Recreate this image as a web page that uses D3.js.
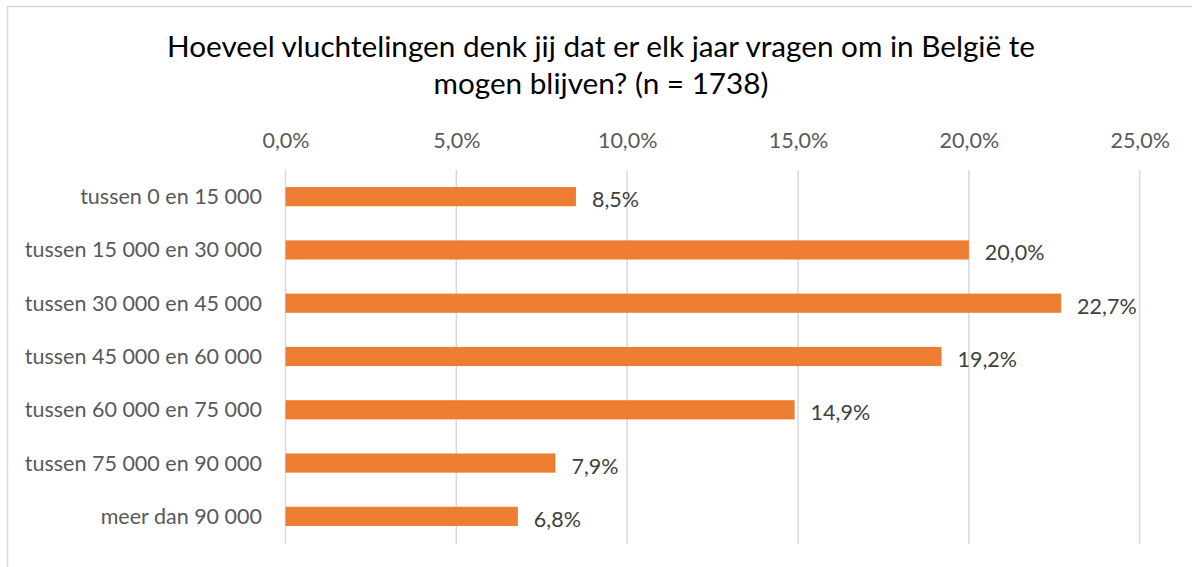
<!DOCTYPE html>
<html><head><meta charset="utf-8">
<script src="https://cdn.jsdelivr.net/npm/d3@7"></script>
<style>body{margin:0;background:#fff}svg{display:block}</style>
</head><body>
<svg id="c" width="1192" height="567"></svg>
<script>
const categories = ["tussen 0 en 15 000","tussen 15 000 en 30 000","tussen 30 000 en 45 000","tussen 45 000 en 60 000","tussen 60 000 en 75 000","tussen 75 000 en 90 000","meer dan 90 000"];
const values = [8.5, 20.0, 22.7, 19.2, 14.9, 7.9, 6.8];
const ticks = [0, 5, 10, 15, 20, 25];
const titleLines = ["Hoeveel vluchtelingen denk jij dat er elk jaar vragen om in België te", "mogen blijven? (n = 1738)"];

const svg = d3.select("#c");
const font = "Lato, sans-serif";
const fmt = v => v.toFixed(1).replace(".", ",") + "%";
const fs = 21.5;

svg.append("rect").attr("x", 7.5).attr("y", 6.5).attr("width", 1200).attr("height", 600)
  .attr("fill", "#fff").attr("stroke", "#d9d9d9").attr("stroke-width", 1.5);

const x = d3.scaleLinear().domain([0, 25]).range([285.5, 1139.7]);
const y = d3.scaleBand().domain(categories).range([170, 543]).paddingInner(0.64).paddingOuter(0.32);

// gridlines
svg.append("g").selectAll("line").data(ticks).join("line")
  .attr("x1", d => x(d)).attr("x2", d => x(d)).attr("y1", 170).attr("y2", 544)
  .attr("stroke", "#d9d9d9").attr("stroke-width", 1.5);

// top axis labels
const ax = svg.append("g").attr("transform", "translate(0,140)")
  .call(d3.axisTop(x).tickValues(ticks).tickFormat(d => fmt(d)).tickSize(0).tickPadding(0));
ax.select(".domain").remove();
ax.selectAll("text").attr("font-family", font).attr("font-size", fs).attr("fill", "#595959")
  .attr("dy", "0.35em");

// category labels
svg.append("g").selectAll("text").data(categories).join("text")
  .attr("x", 262).attr("y", d => y(d) + y.bandwidth() / 2).attr("dy", "0.35em")
  .attr("text-anchor", "end").attr("font-family", font).attr("font-size", fs).attr("fill", "#595959")
  .text(d => d);

// bars
svg.append("g").selectAll("rect").data(values).join("rect")
  .attr("x", x(0)).attr("y", (d, i) => y(categories[i]))
  .attr("width", d => x(d) - x(0)).attr("height", y.bandwidth())
  .attr("fill", "#ed7d31");

// data labels
svg.append("g").selectAll("text").data(values).join("text")
  .attr("x", d => x(d) + 16).attr("y", (d, i) => y(categories[i]) + y.bandwidth() / 2 + 3).attr("dy", "0.35em")
  .attr("font-family", font).attr("font-size", fs).attr("fill", "#404040")
  .text(d => fmt(d));

// title
svg.append("g").selectAll("text").data(titleLines).join("text")
  .attr("x", 601).attr("y", (d, i) => 57.3 + i * 37)
  .attr("text-anchor", "middle").attr("font-family", font).attr("font-size", 29.7).attr("fill", "#000")
  .text(d => d);
</script>
</body></html>
